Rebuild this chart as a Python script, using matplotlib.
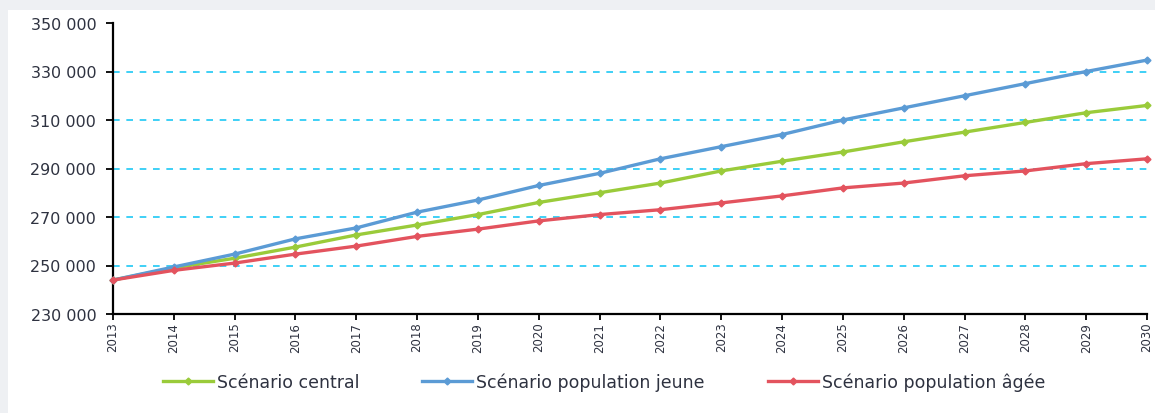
import matplotlib
matplotlib.use("Agg")
import matplotlib.pyplot as plt
from matplotlib.patches import Rectangle

years = list(range(2013, 2031))
central = [244000, 249000, 253000, 257600, 262600, 266700, 271000, 276000, 280000,
           284000, 289000, 293000, 296800, 301000, 305000, 309000, 313000, 316000]
jeune = [244000, 249400, 254700, 261000, 265500, 272000, 277000, 283000, 288000,
         294000, 299000, 304000, 310000, 315000, 320000, 325000, 330000, 334700]
agee = [244000, 248000, 251000, 254700, 258000, 262000, 265000, 268400, 271000,
        273000, 275800, 278700, 282000, 284000, 287000, 289000, 292000, 294000]
yticks = [230000, 250000, 270000, 290000, 310000, 330000, 350000]
ytick_labels = ["230 000", "250 000", "270 000", "290 000", "310 000", "330 000", "350 000"]

plt.rcParams['font.family'] = ['DejaVu Sans']

fig = plt.figure(figsize=(11.55, 4.14), dpi=100)
fig.patch.set_facecolor('#eef0f3')
bg = Rectangle((8/1155, 0), 1, 1 - 11/414, transform=fig.transFigure,
               facecolor='white', edgecolor='none', zorder=-10)
fig.add_artist(bg)

ax = fig.add_axes([113/1155, 1 - 315/414, 1034/1155, 291/414])
ax.set_zorder(5)
ax.set_facecolor('none')

for y in yticks[1:-1]:
    ax.axhline(y, color='#1ec8f5', linestyle=(0, (4, 4)), linewidth=1.2, zorder=1)

lw = 2.4
ax.plot(years, central, color='#9acb3a', linewidth=lw, marker='D', markersize=3.5,
        label='Scénario central', zorder=3, clip_on=False)
ax.plot(years, jeune, color='#5b9bd5', linewidth=lw, marker='D', markersize=3.5,
        label='Scénario population jeune', zorder=3, clip_on=False)
ax.plot(years, agee, color='#e3535e', linewidth=lw, marker='D', markersize=3.5,
        label='Scénario population âgée', zorder=4, clip_on=False)

ax.set_xlim(2013, 2030)
ax.set_ylim(230000, 350000)
ax.set_yticks(yticks)
ax.set_yticklabels(ytick_labels, fontsize=11.5, color='#2e3240')
ax.set_xticks(years)
ax.set_xticklabels([str(y) for y in years], rotation=90, fontsize=8.5, color='#2e3240')
ax.tick_params(axis='y', length=5, width=1.3, direction='out', pad=7)
ax.tick_params(axis='x', length=4.5, width=1.3, direction='out', pad=1)
for s in ['top', 'right']:
    ax.spines[s].set_visible(False)
for s in ['left', 'bottom']:
    ax.spines[s].set_linewidth(1.6)
    ax.spines[s].set_color('black')

fs = 12.5
em = fs * 100 / 72
leg = fig.legend(loc='center', bbox_to_anchor=(0.523, 1 - 383/414), ncol=3, frameon=False,
                 fontsize=fs, handlelength=50/em, columnspacing=63/em, handletextpad=4/em)
for t in leg.get_texts():
    t.set_color('#2e3240')

fig.savefig('out.png', dpi=100)
